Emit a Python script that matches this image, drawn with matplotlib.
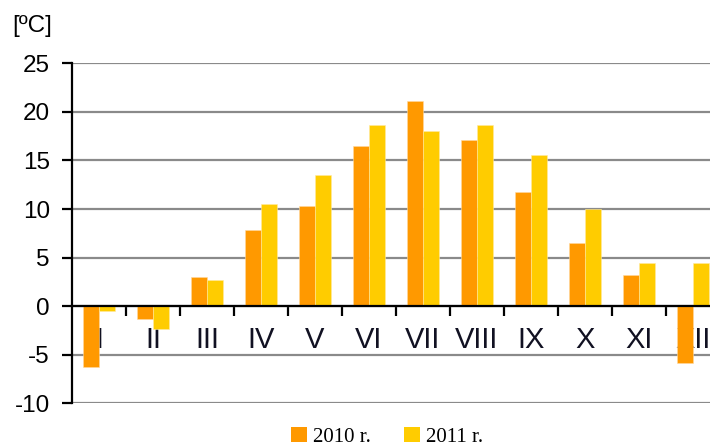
import matplotlib
matplotlib.use("Agg")
import matplotlib.pyplot as plt
from matplotlib.patches import Patch
from matplotlib.ticker import FixedLocator
import numpy as np
from matplotlib import font_manager

months = ["I", "II", "III", "IV", "V", "VI", "VII", "VIII", "IX", "X", "XI", "XII"]
t2010 = [-6.3, -1.3, 3.0, 7.8, 10.3, 16.5, 21.1, 17.1, 11.8, 6.5, 3.2, -5.8]
t2011 = [-0.5, -2.3, 2.7, 10.5, 13.5, 18.6, 18.0, 18.6, 15.6, 10.0, 4.4, 4.4]
yticks = [-10, -5, 0, 5, 10, 15, 20, 25]
series_labels = ["2010 r.", "2011 r."]

c2010 = "#FF9900"
c2011 = "#FFCC00"

names = {f.name for f in font_manager.fontManager.ttflist}
narrow = "Liberation Sans Narrow" if "Liberation Sans Narrow" in names else "Liberation Sans"

fig = plt.figure(figsize=(7.1, 4.46), dpi=100)
ax = fig.add_axes([72 / 710, (446 - 403.3) / 446, 648 / 710, 340 / 446])

x = np.arange(len(months)) + 0.5
w = 0.3
ax.bar(x - w / 2, t2010, width=w, color=c2010, zorder=2, edgecolor="#FFD9A0", linewidth=0.4)
ax.bar(x + w / 2, t2011, width=w, color=c2011, zorder=2, edgecolor="#FFE9A0", linewidth=0.4)

ax.set_xlim(0, 12)
ax.set_ylim(-10, 25)
ax.set_yticks(yticks)
ax.set_yticklabels([str(v) for v in yticks], fontsize=17.5, family="Liberation Sans")
ax.yaxis.grid(True, color="#8a8a8a", linewidth=1.6, zorder=0)
ax.set_axisbelow(True)

for s in ["top", "right"]:
    ax.spines[s].set_visible(False)
ax.spines["bottom"].set_position(("data", 0))
ax.spines["bottom"].set_linewidth(1.6)
ax.spines["bottom"].set_zorder(3)
ax.spines["left"].set_linewidth(1.6)

ax.tick_params(axis="y", length=7, width=1.6, pad=9, direction="out")

ax.set_xticks(x)
ax.set_xticklabels(months, fontsize=21, family=narrow, color="#111122")
ax.tick_params(axis="x", which="major", length=0, pad=14)
ax.xaxis.set_minor_locator(FixedLocator(np.arange(1, 12)))
ax.tick_params(axis="x", which="minor", length=7, width=1.6, direction="out")

fig.text(12 / 710, 1 - 26 / 446, "[ºC]", fontsize=17.5, family="Liberation Sans", va="center", ha="left")

handles = [Patch(facecolor=c2010), Patch(facecolor=c2011)]
fig.legend(handles, series_labels, loc="center", bbox_to_anchor=(387 / 710, 9 / 446), ncol=2,
           frameon=False, prop={"family": "Liberation Serif", "size": 15},
           handlelength=0.75, handleheight=0.75, handletextpad=0.3, columnspacing=1.6)

fig.savefig("out.png", dpi=100)
